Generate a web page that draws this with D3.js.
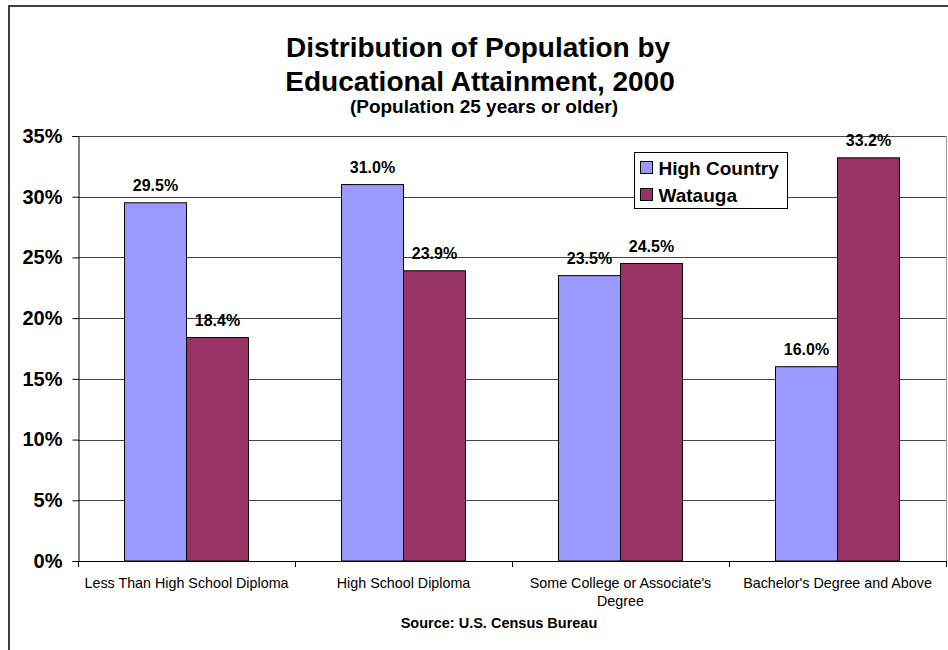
<!DOCTYPE html>
<html>
<head>
<meta charset="utf-8">
<script src="https://cdn.jsdelivr.net/npm/d3@7"></script>
<style>
  html, body { margin: 0; padding: 0; background: #fff; }
  svg { display: block; font-family: "Liberation Sans", Arial, sans-serif; }
</style>
</head>
<body>
<svg id="chart" width="948" height="650"></svg>
<script>
// Educational attainment shares, population 25 years or older (2000)
const categories = [
  ["Less Than High School Diploma"],
  ["High School Diploma"],
  ["Some College or Associate's", "Degree"],
  ["Bachelor's Degree and Above"]
];
const seriesNames = ["High Country", "Watauga"];
const highCountry = [29.5, 31.0, 23.5, 16.0];
const watauga = [18.4, 23.9, 24.5, 33.2];
const yTicks = [0, 5, 10, 15, 20, 25, 30, 35];
const colors = ["#9999FF", "#993366"];

const svg = d3.select("#chart");
const W = 948, H = 650;
const plot = { left: 78, right: 946, top: 136, bottom: 561 };

// outer chart frame (top and left edges visible)
svg.append("line").attr("x1", 8).attr("x2", W).attr("y1", 6).attr("y2", 6)
  .attr("stroke", "#404040").attr("stroke-width", 2);
svg.append("line").attr("x1", 9).attr("x2", 9).attr("y1", 5).attr("y2", H)
  .attr("stroke", "#404040").attr("stroke-width", 2);

// titles
svg.append("text").attr("x", 478).attr("y", 57).attr("text-anchor", "middle")
  .attr("font-size", 28).attr("font-weight", "bold").text("Distribution of Population by");
svg.append("text").attr("x", 480).attr("y", 91).attr("text-anchor", "middle")
  .attr("font-size", 28).attr("font-weight", "bold").text("Educational Attainment, 2000");
svg.append("text").attr("x", 484).attr("y", 113).attr("text-anchor", "middle")
  .attr("font-size", 19).attr("font-weight", "bold").text("(Population 25 years or older)");

const x0 = d3.scaleBand().domain(d3.range(categories.length))
  .range([plot.left, plot.right]).paddingInner(0).paddingOuter(0);
const y = d3.scaleLinear().domain([0, 35]).range([plot.bottom, plot.top]);
// two bars per group, gap width 150% of a bar
const barW = x0.bandwidth() / 3.5;

// horizontal gridlines
svg.append("g").selectAll("line").data(yTicks.filter(d => d > 0)).join("line")
  .attr("x1", plot.left).attr("x2", plot.right)
  .attr("y1", d => Math.round(y(d)) + 0.5).attr("y2", d => Math.round(y(d)) + 0.5)
  .attr("stroke", "#444").attr("stroke-width", 1);

// right plot edge
svg.append("line").attr("x1", plot.right + 0.5).attr("x2", plot.right + 0.5)
  .attr("y1", plot.top).attr("y2", plot.bottom + 6)
  .attr("stroke", "#999").attr("stroke-width", 1);

// y axis
const yAxis = d3.axisLeft(y).tickValues(yTicks).tickSize(6).tickFormat(d => d + "%");
const gy = svg.append("g").attr("transform", `translate(${plot.left + 0.5},0)`).call(yAxis);
gy.select(".domain").attr("stroke", "#000");
gy.selectAll(".tick line").attr("stroke", "#000");
gy.selectAll(".tick text").attr("x", -16).attr("font-size", 20).attr("font-weight", "bold")
  .attr("font-family", "Liberation Sans, Arial, sans-serif").attr("fill", "#000");

// bars
const series = [highCountry, watauga];
series.forEach((vals, si) => {
  svg.append("g").selectAll("rect").data(vals).join("rect")
    .attr("x", (d, i) => x0(i) + x0.bandwidth() / 2 - barW + si * barW)
    .attr("y", d => y(d))
    .attr("width", barW)
    .attr("height", d => y(0) - y(d))
    .attr("fill", colors[si])
    .attr("stroke", "#000").attr("stroke-width", 1);
  svg.append("g").selectAll("text").data(vals).join("text")
    .attr("x", (d, i) => x0(i) + x0.bandwidth() / 2 - barW / 2 + si * barW)
    .attr("y", d => y(d) - 12)
    .attr("text-anchor", "middle")
    .attr("font-size", 16).attr("font-weight", "bold")
    .text(d => d.toFixed(1) + "%");
});

// x axis with ticks at category boundaries
svg.append("line").attr("x1", plot.left).attr("x2", plot.right)
  .attr("y1", plot.bottom + 0.5).attr("y2", plot.bottom + 0.5).attr("stroke", "#000");
svg.append("g").selectAll("line").data(d3.range(categories.length + 1)).join("line")
  .attr("x1", i => Math.round(plot.left + i * x0.bandwidth()) + 0.5)
  .attr("x2", i => Math.round(plot.left + i * x0.bandwidth()) + 0.5)
  .attr("y1", plot.bottom).attr("y2", plot.bottom + 6)
  .attr("stroke", "#000");

// category labels
const cat = svg.append("g").selectAll("text").data(categories).join("text")
  .attr("text-anchor", "middle").attr("font-size", 14.3)
  .attr("transform", (d, i) => `translate(${x0(i) + x0.bandwidth() / 2},588)`);
cat.selectAll("tspan").data(d => d).join("tspan")
  .attr("x", 0).attr("dy", (d, j) => j === 0 ? 0 : 18).text(d => d);

// source note
svg.append("text").attr("x", 499).attr("y", 628).attr("text-anchor", "middle")
  .attr("font-size", 14.5).attr("font-weight", "bold").text("Source: U.S. Census Bureau");

// legend
const lg = svg.append("g").attr("transform", "translate(634.5,152.5)");
lg.append("rect").attr("width", 153).attr("height", 56)
  .attr("fill", "#fff").attr("stroke", "#000");
seriesNames.forEach((name, i) => {
  lg.append("rect").attr("x", 6).attr("y", 9 + i * 27).attr("width", 12).attr("height", 12)
    .attr("fill", colors[i]).attr("stroke", "#000");
  lg.append("text").attr("x", 24).attr("y", 22 + i * 27)
    .attr("font-size", 19).attr("font-weight", "bold").text(name);
});
</script>
</body>
</html>
